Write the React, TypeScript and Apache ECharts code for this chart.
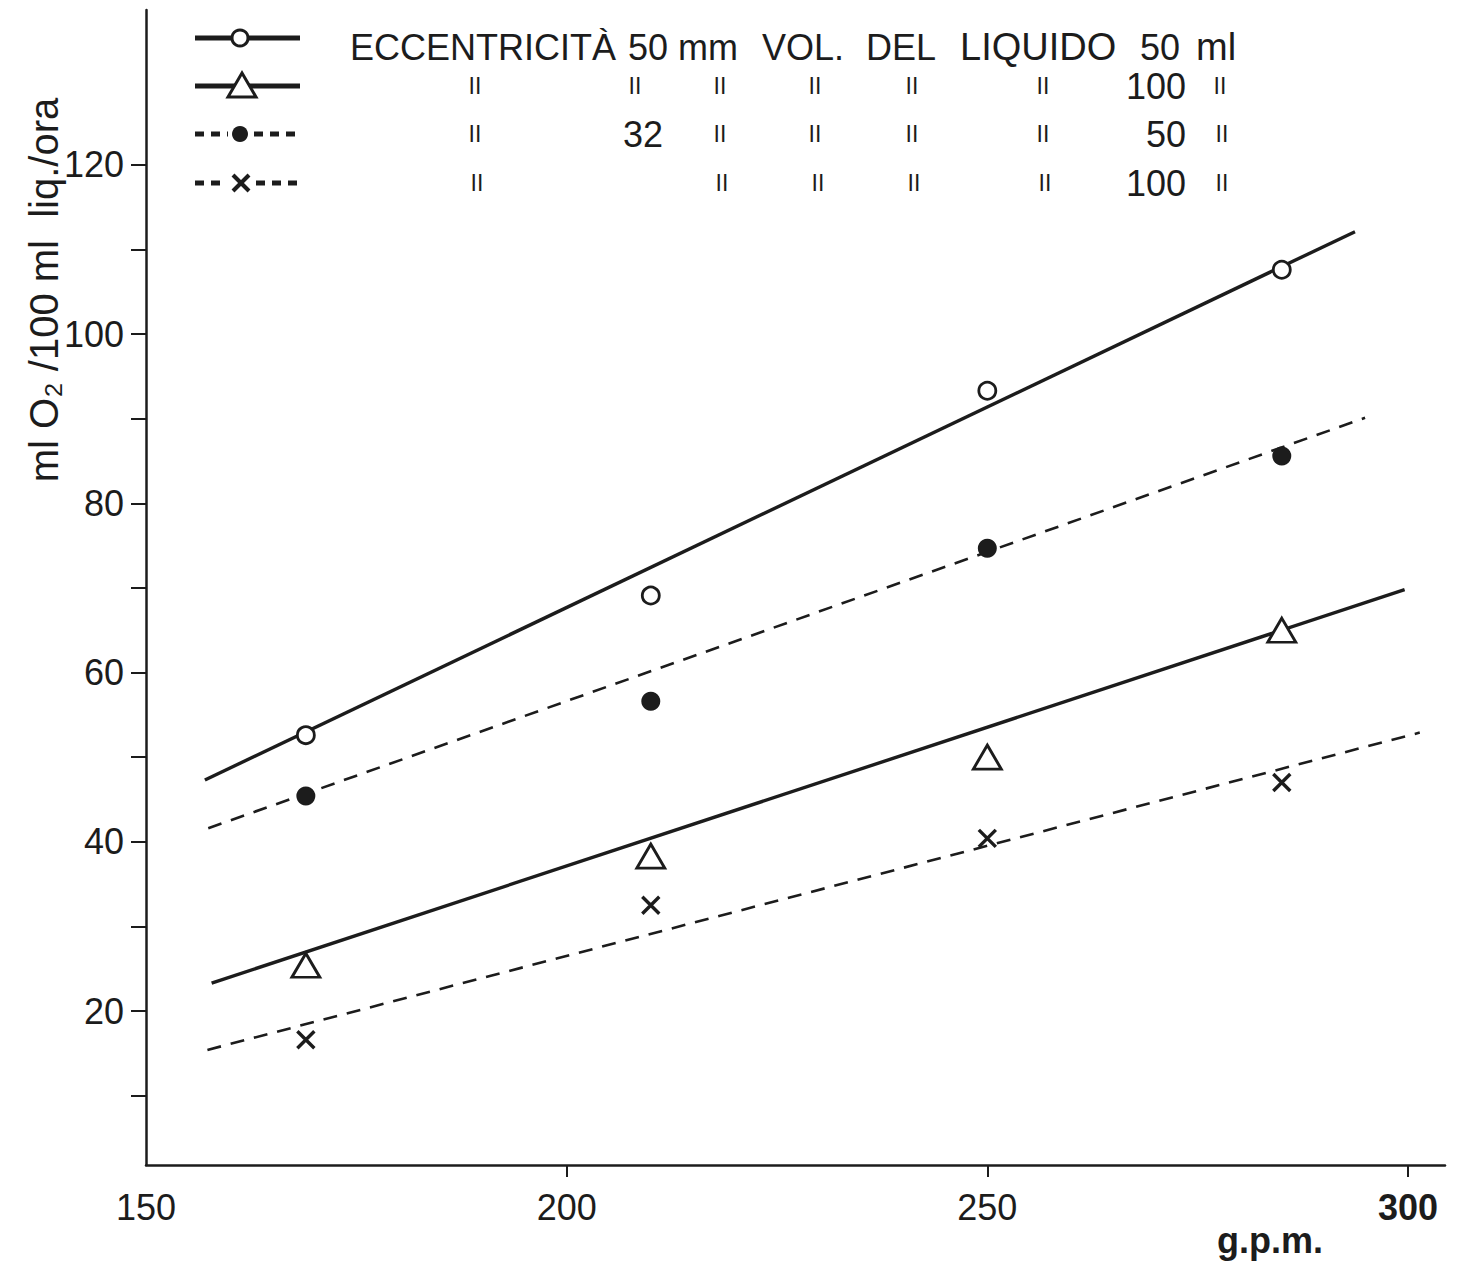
import React, { useEffect, useRef } from "react";
import * as echarts from "echarts";

// Shaking speed (g.p.m.) at which each group was measured
const rpm = [169, 210, 250, 285];

// Oxygen transfer, ml O2 / 100 ml liquid / hour
const o2Ecc50Vol50 = [52.6, 69.1, 93.3, 107.6];
const o2Ecc50Vol100 = [25.4, 38.3, 50.0, 65.0];
const o2Ecc32Vol50 = [45.4, 56.6, 74.7, 85.6];
const o2Ecc32Vol100 = [16.6, 32.5, 40.4, 47.0];

// Straight lines drawn through each group: [start, end] as [g.p.m., ml O2]
const fitEcc50Vol50 = [[157.0, 47.3], [293.7, 112.1]];
const fitEcc32Vol50 = [[157.4, 41.6], [294.9, 90.1]];
const fitEcc50Vol100 = [[157.8, 23.3], [299.6, 69.8]];
const fitEcc32Vol100 = [[157.3, 15.4], [301.4, 52.9]];

// Axis ticks and labels
const xTickValues = [200, 250, 300];
const xLabelValues = [150, 200, 250, 300];
const yTickValues = [10, 20, 30, 40, 50, 60, 70, 80, 90, 100, 110, 120];
const yLabelValues = [20, 40, 60, 80, 100, 120];

const INK = "#1c1c1c";
const FONT = "'Liberation Sans', Arial, sans-serif";

const pairs = (ys: number[]) => rpm.map((x, i) => [x, ys[i]]);

function txt(x: number, y: number, s: string, size: number, align = "left", weight = "normal") {
  return {
    type: "text",
    x,
    y,
    silent: true,
    style: {
      text: s,
      fill: INK,
      font: `${weight} ${size}px ${FONT}`,
      align,
      verticalAlign: "middle",
      textAlign: align,
      textVerticalAlign: "middle",
    },
  };
}

// ditto mark under a word of the heading
function ditto(x: number, y: number) {
  return txt(x, y, "II", 23, "center");
}

function legendGraphics() {
  const els: any[] = [];
  const rows = [38, 86, 134, 183];
  // row 1: solid line with open circle
  els.push({ type: "line", shape: { x1: 195, y1: rows[0], x2: 300, y2: rows[0] }, style: { stroke: INK, lineWidth: 5 } });
  els.push({ type: "circle", shape: { cx: 240, cy: rows[0], r: 8 }, style: { fill: "#fff", stroke: INK, lineWidth: 3 } });
  // row 2: solid line with open triangle
  els.push({ type: "line", shape: { x1: 195, y1: rows[1], x2: 300, y2: rows[1] }, style: { stroke: INK, lineWidth: 5 } });
  els.push({
    type: "polygon",
    shape: { points: [[242, rows[1] - 13], [228, rows[1] + 11], [256, rows[1] + 11]] },
    style: { fill: "#fff", stroke: INK, lineWidth: 3 },
  });
  // row 3: dashed line with filled dot
  els.push({ type: "line", shape: { x1: 195, y1: rows[2], x2: 228, y2: rows[2] }, style: { stroke: INK, lineWidth: 5, lineDash: [9, 7] } });
  els.push({ type: "line", shape: { x1: 254, y1: rows[2], x2: 300, y2: rows[2] }, style: { stroke: INK, lineWidth: 5, lineDash: [9, 7] } });
  els.push({ type: "circle", shape: { cx: 240, cy: rows[2], r: 8 }, style: { fill: INK } });
  // row 4: dashed line with cross
  els.push({ type: "line", shape: { x1: 195, y1: rows[3], x2: 226, y2: rows[3] }, style: { stroke: INK, lineWidth: 5, lineDash: [9, 7] } });
  els.push({ type: "line", shape: { x1: 256, y1: rows[3], x2: 300, y2: rows[3] }, style: { stroke: INK, lineWidth: 5, lineDash: [9, 7] } });
  els.push({ type: "line", shape: { x1: 233, y1: rows[3] - 8, x2: 249, y2: rows[3] + 8 }, style: { stroke: INK, lineWidth: 4 } });
  els.push({ type: "line", shape: { x1: 249, y1: rows[3] - 8, x2: 233, y2: rows[3] + 8 }, style: { stroke: INK, lineWidth: 4 } });

  // heading row
  const h = 47;
  els.push(txt(350, h, "ECCENTRICITÀ", 36));
  els.push(txt(628, h, "50 mm", 36));
  els.push(txt(762, h, "VOL.", 36));
  els.push(txt(866, h, "DEL", 36));
  els.push(txt(960, h, "LIQUIDO", 38));
  els.push(txt(1140, h, "50", 36));
  els.push(txt(1196, h, "ml", 38));

  // row 2
  [475, 635, 720, 815, 912, 1043, 1220].forEach((x) => els.push(ditto(x, rows[1])));
  els.push(txt(1186, rows[1], "100", 36, "right"));
  // row 3
  [475, 720, 815, 912, 1043, 1222].forEach((x) => els.push(ditto(x, rows[2])));
  els.push(txt(643, rows[2], "32", 36, "center"));
  els.push(txt(1186, rows[2], "50", 36, "right"));
  // row 4
  [477, 722, 818, 914, 1045, 1222].forEach((x) => els.push(ditto(x, rows[3])));
  els.push(txt(1186, rows[3], "100", 36, "right"));

  // axis titles
  els.push({
    ...txt(44, 290, "ml O₂ /100 ml  liq./ora", 40, "center"),
    rotation: Math.PI / 2,
  });
  els.push(txt(1270, 1240, "g.p.m.", 36, "center", "bold"));
  return els;
}

function fitLine(data: number[][], dashed: boolean) {
  return {
    type: "line",
    data,
    showSymbol: false,
    silent: true,
    z: 2,
    lineStyle: { color: INK, width: dashed ? 2.6 : 3.4, type: dashed ? [14, 10] : "solid" },
  };
}

function points(ys: number[], symbol: string, size: any, itemStyle: any) {
  return {
    type: "scatter",
    data: pairs(ys),
    symbol,
    symbolSize: size,
    z: 5,
    itemStyle: { opacity: 1, ...itemStyle },
  };
}

export default function App() {
  const ref = useRef<HTMLDivElement>(null);

  useEffect(() => {
    if (!ref.current) return;
    const chart = echarts.init(ref.current, undefined, { renderer: "svg" });
    chart.setOption({
      animation: false,
      backgroundColor: "#ffffff",
      grid: { left: 146, right: 16, top: 10, bottom: 102 },
      xAxis: {
        type: "value",
        min: 150,
        max: 304.4,
        splitLine: { show: false },
        axisLine: { onZero: false, lineStyle: { color: INK, width: 2.5 } },
        axisTick: { show: true, customValues: xTickValues, length: 12, lineStyle: { color: INK, width: 2 } },
        axisLabel: {
          customValues: xLabelValues,
          margin: 24,
          fontSize: 36,
          fontFamily: FONT,
          color: INK,
          formatter: (v: number) => (v === 300 ? `{b|${v}}` : `${v}`),
          rich: { b: { fontSize: 36, fontFamily: FONT, fontWeight: "bold", color: INK } },
        },
      },
      yAxis: {
        type: "value",
        min: 1.8,
        max: 138.3,
        splitLine: { show: false },
        axisLine: { onZero: false, lineStyle: { color: INK, width: 2.5 } },
        axisTick: { show: true, customValues: yTickValues, length: 15, lineStyle: { color: INK, width: 2 } },
        axisLabel: { customValues: yLabelValues, margin: 22, fontSize: 36, fontFamily: FONT, color: INK },
      },
      graphic: legendGraphics(),
      series: [
        fitLine(fitEcc50Vol50, false),
        fitLine(fitEcc32Vol50, true),
        fitLine(fitEcc50Vol100, false),
        fitLine(fitEcc32Vol100, true),
        points(o2Ecc50Vol50, "circle", 17, { color: "#ffffff", borderColor: INK, borderWidth: 2.8 }),
        points(o2Ecc32Vol50, "circle", 19, { color: INK }),
        points(o2Ecc50Vol100, "triangle", [28, 24], { color: "#ffffff", borderColor: INK, borderWidth: 2.8 }),
        points(o2Ecc32Vol100, "path://M0,0L10,10M10,0L0,10", 17, { color: "transparent", borderColor: INK, borderWidth: 3.4 }),
      ],
    });
    return () => chart.dispose();
  }, []);

  return (
    <div
      ref={ref}
      style={{ position: "fixed", left: 0, top: 0, width: 1461, height: 1267, background: "#fff" }}
    />
  );
}
